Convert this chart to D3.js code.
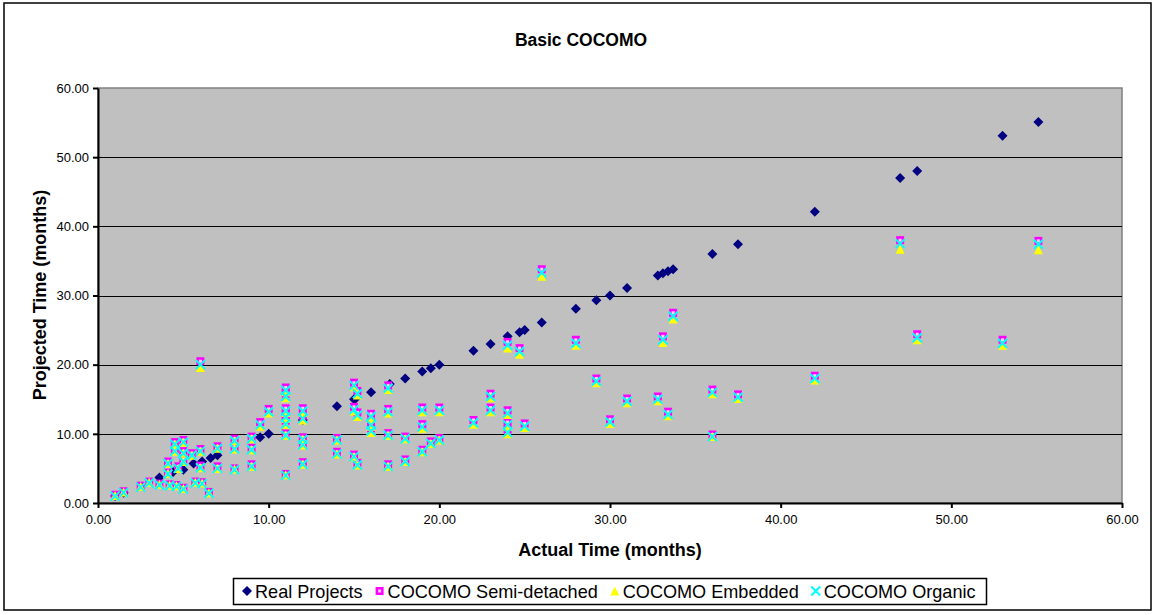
<!DOCTYPE html>
<html>
<head>
<meta charset="utf-8">
<script src="https://cdn.jsdelivr.net/npm/d3@7"></script>
<style>
  html, body { margin: 0; padding: 0; background: #ffffff; }
  svg { display: block; font-family: Arial, "Liberation Sans", Helvetica, sans-serif; }
</style>
</head>
<body>
<svg id="chart" width="1156" height="615"></svg>
<script>
// Real projects: actual schedule vs itself (months)
const realActual = [
  1.0, 1.5, 3.6, 4.4, 5.0, 5.6, 6.1, 6.6, 7.0, 9.5, 10.0, 12.0, 14.0, 15.0, 15.1,
  16.0, 17.1, 18.0, 19.0, 19.5, 20.0, 22.0, 23.0, 24.0, 24.7, 25.0, 26.0, 28.0,
  29.2, 30.0, 31.0, 32.8, 33.1, 33.4, 33.7, 36.0, 37.5, 42.0, 47.0, 48.0, 53.0, 55.1
];
const realProjected = [
  1.0, 1.5, 3.7, 4.5, 4.8, 5.7, 6.0, 6.5, 6.9, 9.5, 10.0, 12.0, 14.0, 15.0, 15.1,
  16.0, 17.2, 18.0, 19.0, 19.5, 20.0, 22.0, 23.0, 24.1, 24.7, 25.0, 26.1, 28.1,
  29.3, 30.0, 31.1, 32.9, 33.2, 33.5, 33.8, 36.0, 37.4, 42.1, 47.0, 48.0, 53.1, 55.1
];
// Projects with their Basic COCOMO schedule estimates (months)
const cocomoActual = [
  1.0, 1.5, 2.5, 3.0, 3.6, 4.1, 4.1, 4.2, 4.5, 4.5, 4.6, 4.7, 5.0, 5.0, 5.0, 5.0,
  5.5, 5.7, 6.0, 6.0, 6.0, 6.1, 6.5, 7.0, 7.0, 8.0, 8.0, 8.0, 9.0, 9.0, 9.0, 9.5,
  10.0, 11.0, 11.0, 11.0, 11.0, 11.0, 11.0, 11.0, 12.0, 12.0, 12.0, 12.0, 12.0,
  14.0, 14.0, 15.0, 15.0, 15.0, 15.2, 15.2, 15.2, 16.0, 16.0, 16.0,
  17.0, 17.0, 17.0, 17.0, 18.0, 18.0, 19.0, 19.0, 19.0, 19.5, 20.0, 20.0,
  22.0, 23.0, 23.0, 24.0, 24.0, 24.0, 24.0, 24.7, 25.0, 26.0, 28.0, 29.2,
  30.0, 31.0, 32.8, 33.1, 33.4, 33.7, 36.0, 36.0, 37.5, 42.0, 47.0, 48.0, 53.0, 55.1
];
const semiDetached = [
  1.2, 1.7, 2.5, 3.1, 2.8, 6.0, 4.4, 2.7, 8.8, 7.8, 2.6, 5.3, 9.1, 7.5, 6.3, 2.2,
  7.2, 3.1, 20.5, 7.8, 5.4, 3.0, 1.6, 8.2, 5.3, 9.3, 8.1, 5.0, 9.6, 8.0, 5.6, 11.7,
  13.6, 16.7, 15.8, 13.7, 12.8, 11.9, 10.1, 4.2, 13.7, 12.6, 9.5, 8.7, 5.9,
  9.4, 7.4, 17.4, 13.9, 7.0, 16.2, 13.1, 5.8, 12.9, 11.7, 10.8,
  17.0, 13.6, 10.1, 5.6, 9.6, 6.3, 13.8, 11.4, 7.7, 8.9, 13.8, 9.4,
  12.0, 15.8, 13.8, 23.3, 13.4, 11.7, 10.6, 22.4, 11.5, 33.8, 23.6, 18.0,
  12.1, 15.1, 15.4, 24.1, 13.2, 27.5, 16.4, 9.9, 15.7, 18.4, 38.0, 24.4, 23.6, 37.9
];
const embedded = [
  1.1, 1.6, 2.4, 3.0, 2.7, 5.7, 4.3, 2.6, 8.5, 7.5, 2.5, 5.0, 8.8, 7.2, 6.0, 2.1,
  6.9, 3.0, 19.6, 7.5, 5.1, 2.9, 1.5, 7.9, 5.0, 9.0, 7.8, 4.9, 9.3, 7.7, 5.3, 11.1,
  13.0, 16.1, 15.2, 13.1, 12.2, 11.3, 9.8, 4.1, 13.1, 12.0, 9.2, 8.4, 5.6,
  9.1, 7.1, 16.8, 13.3, 6.7, 15.6, 12.5, 5.5, 12.3, 11.1, 10.2,
  16.4, 13.0, 9.8, 5.3, 9.3, 6.0, 13.2, 10.8, 7.4, 8.6, 13.2, 9.1,
  11.4, 15.2, 13.2, 22.4, 12.8, 11.1, 10.0, 21.5, 10.9, 32.8, 22.8, 17.4,
  11.5, 14.5, 14.8, 23.2, 12.6, 26.6, 15.8, 9.6, 15.1, 17.8, 36.7, 23.6, 22.8, 36.6
];
const organic = [
  1.0, 1.5, 2.3, 2.9, 2.6, 5.7, 4.2, 2.5, 8.5, 7.5, 2.4, 5.0, 8.8, 7.2, 6.0, 2.0,
  6.9, 2.9, 20.0, 7.5, 5.1, 2.8, 1.4, 7.9, 5.0, 9.0, 7.8, 4.8, 9.3, 7.7, 5.3, 11.3,
  13.2, 16.3, 15.4, 13.3, 12.4, 11.4, 9.8, 4.0, 13.3, 12.2, 9.2, 8.4, 5.6,
  9.1, 7.1, 17.0, 13.5, 6.7, 15.8, 12.7, 5.5, 12.5, 11.3, 10.4,
  16.6, 13.2, 9.8, 5.3, 9.3, 6.0, 13.4, 11.0, 7.4, 8.6, 13.4, 9.1,
  11.6, 15.4, 13.4, 22.8, 13.0, 11.3, 10.2, 21.9, 11.1, 33.3, 23.1, 17.6,
  11.7, 14.7, 15.0, 23.6, 12.8, 27.0, 16.0, 9.6, 15.3, 18.0, 37.5, 23.9, 23.1, 37.4
];
const xTicks = [0, 10, 20, 30, 40, 50, 60];
const yTicks = [0, 10, 20, 30, 40, 50, 60];
const seriesNames = ["Real Projects", "COCOMO Semi-detached", "COCOMO Embedded", "COCOMO Organic"];

const svg = d3.select("#chart");
const W = 1156, H = 615;
const plot = { left: 98, right: 1122, top: 88, bottom: 503 };

const x = d3.scaleLinear().domain([0, 60]).range([plot.left, plot.right]);
const y = d3.scaleLinear().domain([0, 60]).range([plot.bottom, plot.top]);
const fmt = d3.format(".2f");

// chart area frame
svg.append("rect")
  .attr("x", 4).attr("y", 3).attr("width", W - 9).attr("height", H - 8)
  .attr("fill", "#ffffff").attr("stroke", "#000000").attr("stroke-width", 1.5);

// title
svg.append("text")
  .attr("x", 581).attr("y", 46)
  .attr("text-anchor", "middle")
  .attr("font-size", 17.5).attr("font-weight", "bold")
  .text("Basic COCOMO");

// plot area
svg.append("rect")
  .attr("x", plot.left).attr("y", plot.top)
  .attr("width", plot.right - plot.left).attr("height", plot.bottom - plot.top)
  .attr("fill", "#c0c0c0").attr("stroke", "#808080").attr("stroke-width", 1.5);

// horizontal gridlines
svg.append("g")
  .selectAll("line")
  .data(yTicks.filter(d => d > 0 && d < 60))
  .join("line")
  .attr("x1", plot.left).attr("x2", plot.right)
  .attr("y1", d => Math.round(y(d)) + 0.5).attr("y2", d => Math.round(y(d)) + 0.5)
  .attr("stroke", "#000000").attr("stroke-width", 1);

// axes
const yAxis = svg.append("g")
  .attr("transform", `translate(${plot.left},0)`)
  .call(d3.axisLeft(y).tickValues(yTicks).tickFormat(fmt).tickSize(5).tickSizeOuter(0).tickPadding(4));
const xAxis = svg.append("g")
  .attr("transform", `translate(0,${plot.bottom})`)
  .call(d3.axisBottom(x).tickValues(xTicks).tickFormat(fmt).tickSize(5).tickSizeOuter(0).tickPadding(7));

[yAxis, xAxis].forEach(g => {
  g.select(".domain").attr("stroke", "#000000").attr("stroke-width", 2);
  g.selectAll(".tick line").attr("stroke", "#000000").attr("stroke-width", 2);
  g.selectAll(".tick text")
    .attr("font-family", "Arial, 'Liberation Sans', sans-serif")
    .attr("font-size", 13).attr("fill", "#000000");
});

// axis titles
svg.append("text")
  .attr("x", 610).attr("y", 556)
  .attr("text-anchor", "middle")
  .attr("font-size", 18).attr("font-weight", "bold")
  .text("Actual Time (months)");
svg.append("text")
  .attr("transform", "translate(46,295) rotate(-90)")
  .attr("text-anchor", "middle")
  .attr("font-size", 18).attr("font-weight", "bold")
  .text("Projected Time (months)");

// marker shapes
const markers = {
  diamond: (g, cx, cy) => g.append("path")
    .attr("d", `M${cx},${cy - 5}L${cx + 5},${cy}L${cx},${cy + 5}L${cx - 5},${cy}Z`)
    .attr("fill", "#000080"),
  square: (g, cx, cy) => {
    g.append("rect").attr("x", cx - 4).attr("y", cy - 4).attr("width", 8).attr("height", 8)
      .attr("fill", "#ff00ff");
    g.append("rect").attr("x", cx - 1.5).attr("y", cy - 1.5).attr("width", 3).attr("height", 3)
      .attr("fill", "#ffd0ff");
  },
  triangle: (g, cx, cy) => g.append("path")
    .attr("d", `M${cx},${cy - 4.5}L${cx + 4.5},${cy + 4.5}L${cx - 4.5},${cy + 4.5}Z`)
    .attr("fill", "#ffff00"),
  cross: (g, cx, cy) => g.append("path")
    .attr("d", `M${cx - 4.5},${cy - 4.5}L${cx + 4.5},${cy + 4.5}M${cx - 4.5},${cy + 4.5}L${cx + 4.5},${cy - 4.5}`)
    .attr("stroke", "#00ffff").attr("stroke-width", 2).attr("fill", "none")
};

const series = [
  { name: seriesNames[0], xs: realActual, values: realProjected, marker: markers.diamond },
  { name: seriesNames[1], xs: cocomoActual, values: semiDetached, marker: markers.square },
  { name: seriesNames[2], xs: cocomoActual, values: embedded, marker: markers.triangle },
  { name: seriesNames[3], xs: cocomoActual, values: organic, marker: markers.cross }
];

const pointsLayer = svg.append("g");
series.forEach(s => {
  const g = pointsLayer.append("g").attr("class", "series");
  s.values.forEach((v, i) => s.marker(g, x(s.xs[i]), y(v)));
});

// legend
const legend = svg.append("g");
legend.append("rect")
  .attr("x", 233.5).attr("y", 578.5).attr("width", 753).attr("height", 26)
  .attr("fill", "#ffffff").attr("stroke", "#000000").attr("stroke-width", 1.5);
let cursor = 241;
series.forEach(s => {
  const item = legend.append("g");
  s.marker(item, cursor + 6, 591);
  const t = item.append("text")
    .attr("x", cursor + 14).attr("y", 597.5)
    .attr("font-size", 18.1)
    .text(s.name);
  cursor = cursor + 14 + t.node().getComputedTextLength() + 11;
});
</script>
</body>
</html>
